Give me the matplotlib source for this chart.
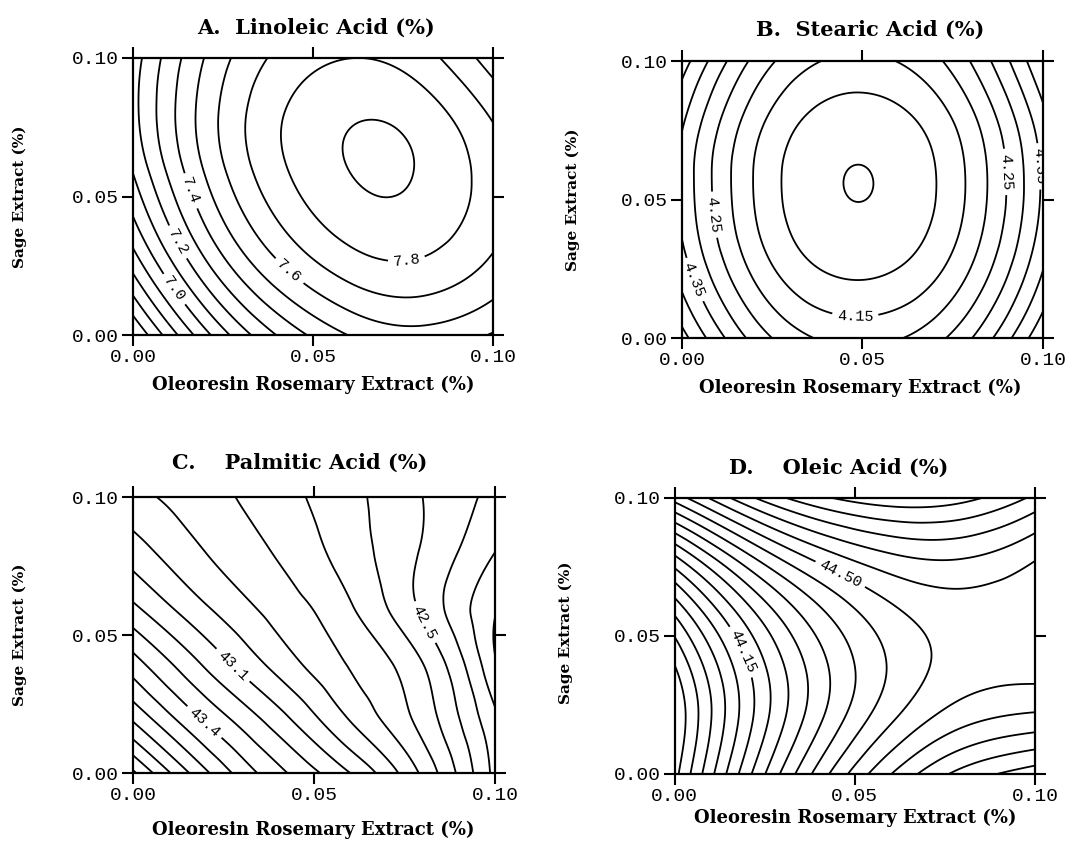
import numpy as np
import matplotlib
matplotlib.use("Agg")
import matplotlib.pyplot as plt
from matplotlib.tri import Triangulation, CubicTriInterpolator

plt.rcParams['font.family'] = ['Liberation Mono', 'DejaVu Sans Mono']

# grid points (%) of rosemary (columns) and sage (rows, 0 at the bottom)
rosemary = np.array([0.0, 0.02, 0.04, 0.06, 0.08, 0.10])
sage = np.array([0.0, 0.02, 0.04, 0.06, 0.08, 0.10])
tick_vals = [0.0, 0.05, 0.10]
tick_labels = ['0.00', '0.05', '0.10']

# values at the grid points
linoleic = np.array([
    [6.494, 6.967, 7.303, 7.503, 7.565, 7.491],
    [6.773, 7.222, 7.534, 7.709, 7.748, 7.649],
    [6.978, 7.403, 7.691, 7.842, 7.856, 7.734],
    [7.109, 7.510, 7.774, 7.901, 7.892, 7.745],
    [7.167, 7.543, 7.784, 7.887, 7.853, 7.683],
    [7.151, 7.504, 7.720, 7.799, 7.742, 7.547],
])
stearic = np.array([
    [4.470, 4.283, 4.192, 4.197, 4.297, 4.494],
    [4.389, 4.202, 4.111, 4.116, 4.216, 4.413],
    [4.344, 4.157, 4.066, 4.071, 4.171, 4.368],
    [4.335, 4.148, 4.057, 4.062, 4.162, 4.359],
    [4.362, 4.175, 4.084, 4.089, 4.189, 4.386],
    [4.425, 4.238, 4.147, 4.152, 4.252, 4.449],
])
palmitic = np.array([
    [44.02, 43.62, 43.33, 43.10, 42.78, 42.37],
    [43.68, 43.38, 43.14, 42.89, 42.66, 42.32],
    [43.44, 43.18, 42.96, 42.79, 42.60, 42.21],
    [43.22, 43.01, 42.86, 42.71, 42.48, 42.21],
    [43.05, 42.90, 42.79, 42.65, 42.49, 42.30],
    [42.93, 42.84, 42.74, 42.63, 42.50, 42.37],
])
oleic = np.array([
    [43.884, 44.182, 44.421, 44.599, 44.718, 44.776],
    [43.857, 44.129, 44.340, 44.492, 44.583, 44.615],
    [43.903, 44.147, 44.332, 44.456, 44.521, 44.528],
    [44.020, 44.238, 44.395, 44.493, 44.530, 44.512],
    [44.210, 44.400, 44.531, 44.601, 44.612, 44.562],
    [44.471, 44.634, 44.738, 44.781, 44.765, 44.688],
])

lin_levels = [6.5, 6.6, 6.7, 6.8, 6.9, 7.0, 7.1, 7.2, 7.3, 7.4, 7.5, 7.6, 7.7, 7.8, 7.9]
ste_levels = [4.05, 4.10, 4.15, 4.20, 4.25, 4.30, 4.35, 4.40, 4.45, 4.50]
pal_levels = [42.2, 42.3, 42.4, 42.5, 42.6, 42.7, 42.8, 42.9, 43.0, 43.1,
              43.2, 43.3, 43.4, 43.5, 43.6, 43.7, 43.8, 43.9, 44.0]
ole_levels = [43.90, 43.95, 44.00, 44.05, 44.10, 44.15, 44.20, 44.25, 44.30,
              44.35, 44.40, 44.45, 44.50, 44.55, 44.60, 44.65, 44.70, 44.75]

panels = [
    ('A.  Linoleic Acid (%)', linoleic, lin_levels, '%.1f',
     [(7.0, 0.010, 0.016), (7.2, 0.013, 0.034), (7.4, 0.016, 0.052),
      (7.6, 0.0445, 0.024), (7.8, 0.075, 0.034)]),
    ('B.  Stearic Acid (%)', stearic, ste_levels, '%.2f',
     [(4.15, 0.048, 0.01), (4.25, 0.012, 0.045), (4.25, 0.087, 0.06),
      (4.35, 0.007, 0.022), (4.35, 0.097, 0.062)]),
    ('C.    Palmitic Acid (%)', palmitic, pal_levels, '%.1f',
     [(43.4, 0.011, 0.011), (43.1, 0.0315, 0.042), (42.5, 0.081, 0.055)]),
    ('D.    Oleic Acid (%)', oleic, ole_levels, '%.2f',
     [(44.15, 0.011, 0.042), (44.50, 0.043, 0.068)]),
]

# axes boxes in figure fractions
boxes = [
    [0.1218, 0.6026, 0.3297, 0.3286],
    [0.6245, 0.5990, 0.3306, 0.3286],
    [0.1218, 0.0830, 0.3315, 0.3274],
    [0.6180, 0.0819, 0.3297, 0.3274],
]
title_pos = [(0.2894, 0.9668), (0.7967, 0.9644), (0.2747, 0.4508), (0.7683, 0.4448)]
xlab_pos = [(0.2866, 0.5433), (0.7875, 0.5397), (0.2866, 0.0154), (0.7830, 0.0297)]
ylab_pos = [(0.0183, 0.7663), (0.5247, 0.7628), (0.0183, 0.2467), (0.5183, 0.2490)]

serif = dict(family='DejaVu Serif', weight='bold')


def snap(cs, lev, x, y):
    # nearest point on the wanted level line, so clabel picks that line
    idx = int(np.argmin(np.abs(np.asarray(cs.levels) - lev)))
    pts = np.vstack([s for s in cs.allsegs[idx] if len(s)])
    j = np.argmin((pts[:, 0] - x)**2 + (pts[:, 1] - y)**2)
    return tuple(pts[j])


fig = plt.figure(figsize=(10.92, 8.43), dpi=100)

fine = np.linspace(0, 0.1, 201)
FX, FY = np.meshgrid(fine, fine)
GX, GY = np.meshgrid(rosemary, sage)
tri = Triangulation(GX.ravel(), GY.ravel())

for i, (title, Z, levels, fmt, labels) in enumerate(panels):
    ax = fig.add_axes(boxes[i])
    interp = CubicTriInterpolator(tri, Z.ravel(), kind='min_E')
    FZ = interp(FX, FY)
    cs = ax.contour(FX, FY, FZ, levels=levels, colors='black', linewidths=1.3)
    spots = [snap(cs, lev, lx, ly) for lev, lx, ly in labels]
    with plt.rc_context({'font.family': ['Liberation Mono']}):
        cs.clabel(manual=spots, inline=True, fmt=fmt, fontsize=11,
                  colors='black')
    ax.set_xlim(0, 0.1)
    ax.set_ylim(0, 0.1)
    ax.set_xticks(tick_vals)
    ax.set_yticks(tick_vals)
    ax.set_xticklabels(tick_labels)
    ax.set_yticklabels(tick_labels)
    ax.tick_params(direction='out', length=8, width=1.5, labelsize=14,
                   top=True, right=True, pad=2)
    for s in ax.spines.values():
        s.set_linewidth(1.6)
    fig.text(*title_pos[i], title, ha='center', va='center', fontsize=15, **serif)
    fig.text(*xlab_pos[i], 'Oleoresin Rosemary Extract (%)', ha='center',
             va='center', fontsize=13, **serif)
    fig.text(*ylab_pos[i], 'Sage Extract (%)', ha='center', va='center',
             rotation=90, fontsize=11, **serif)

fig.savefig('out.png', dpi=100)
